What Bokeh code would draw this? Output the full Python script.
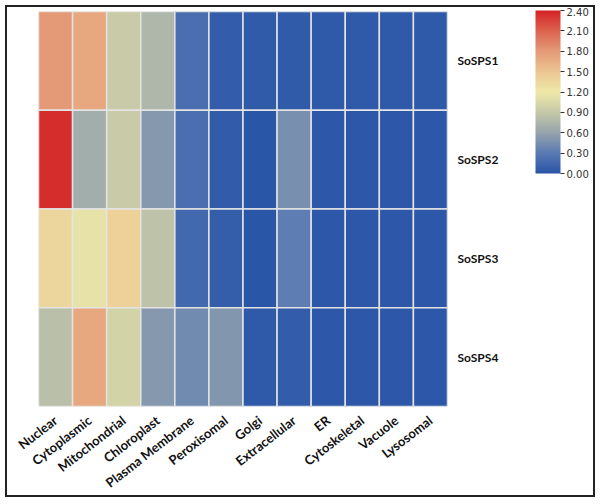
import numpy as np
from bokeh.plotting import figure
from bokeh.models import (ColumnDataSource, LinearColorMapper, ColorBar, FactorRange,
                          CategoricalAxis, FixedTicker, NumeralTickFormatter)
from bokeh.transform import transform
from bokeh.embed import file_html
from bokeh.resources import INLINE

locations = ["Nuclear", "Cytoplasmic", "Mitochondrial", "Chloroplast", "Plasma Membrane",
             "Peroxisomal", "Golgi", "Extracellular", "ER", "Cytoskeletal", "Vacuole", "Lysosomal"]
genes = ["SoSPS1", "SoSPS2", "SoSPS3", "SoSPS4"]

sosps1 = [1.80, 1.70, 0.92, 0.75, 0.20, 0.06, 0.04, 0.04, 0.03, 0.03, 0.03, 0.03]
sosps2 = [2.35, 0.68, 0.92, 0.52, 0.20, 0.05, 0.00, 0.45, 0.02, 0.02, 0.02, 0.02]
sosps3 = [1.35, 1.15, 1.40, 0.85, 0.15, 0.07, 0.00, 0.32, 0.02, 0.02, 0.02, 0.02]
sosps4 = [0.82, 1.70, 1.00, 0.52, 0.42, 0.50, 0.03, 0.06, 0.02, 0.02, 0.02, 0.02]

colorbar_ticks = [0.0, 0.3, 0.6, 0.9, 1.2, 1.5, 1.8, 2.1, 2.4]

# palette anchors (style)
anchor_pos = [0.0, 0.125, 0.25, 0.375, 0.5, 0.625, 0.75, 0.875, 1.0]
anchor_col = ["#2a56a8", "#5a7ab2", "#96a4ac", "#c6c9a8", "#eee9a8",
              "#ecc592", "#e49a78", "#dd6450", "#d42225"]

def hex2rgb(h):
    return [int(h[i:i + 2], 16) for i in (1, 3, 5)]

rgb = np.array([hex2rgb(c) for c in anchor_col], dtype=float)
t = np.linspace(0, 1, 256)
palette = []
for ti in t:
    r = np.interp(ti, anchor_pos, rgb[:, 0])
    g = np.interp(ti, anchor_pos, rgb[:, 1])
    b = np.interp(ti, anchor_pos, rgb[:, 2])
    palette.append("#%02x%02x%02x" % (int(round(r)), int(round(g)), int(round(b))))

xs, ys, vals = [], [], []
for gname, row in zip(genes, [sosps1, sosps2, sosps3, sosps4]):
    for loc, v in zip(locations, row):
        xs.append(loc)
        ys.append(gname)
        vals.append(v)
source = ColumnDataSource(dict(x=xs, y=ys, v=vals))

mapper = LinearColorMapper(palette=palette, low=0.0, high=2.4)

p = figure(width=590, height=492, output_backend="svg", toolbar_location=None,
           x_range=FactorRange(*locations, range_padding=0),
           y_range=FactorRange(*list(reversed(genes)), range_padding=0),
           x_axis_location="below", y_axis_location=None,
           min_border_left=31, min_border_top=4, min_border_bottom=88, min_border_right=150)
p.styles = {"border": "2px solid #222", "margin": "5px"}

p.rect(x="x", y="y", width=1, height=1, source=source,
       fill_color=transform("v", mapper), line_color="#e4e4e4", line_width=1.5)

p.grid.visible = False
p.outline_line_color = None

xa = p.xaxis[0]
xa.major_label_orientation = 0.66
xa.axis_line_color = None
xa.major_tick_line_color = None
xa.major_label_text_font = "Lato"
xa.major_label_text_font_style = "bold"
xa.major_label_text_font_size = "13px"
xa.major_label_text_color = "#111111"
xa.major_label_standoff = 6

ya = CategoricalAxis(axis_line_color=None, major_tick_line_color=None,
                     major_label_text_font="Lato", major_label_text_font_style="bold",
                     major_label_text_font_size="12px", major_label_text_color="#111111",
                     major_label_standoff=4)
p.add_layout(ya, "right")

cb = ColorBar(color_mapper=mapper, ticker=FixedTicker(ticks=colorbar_ticks),
              formatter=NumeralTickFormatter(format="0.00"),
              width=25, height=163, location=(34, 233), margin=10, padding=0,
              major_tick_in=0, major_tick_out=4, major_tick_line_color="#333333",
              minor_tick_line_color=None, label_standoff=2,
              major_label_text_font="DejaVu Sans", major_label_text_font_size="10px",
              major_label_text_color="#333333", background_fill_alpha=0,
              bar_line_color=None)
p.add_layout(cb, "right")

open("out.html", "w").write(file_html(p, INLINE))
